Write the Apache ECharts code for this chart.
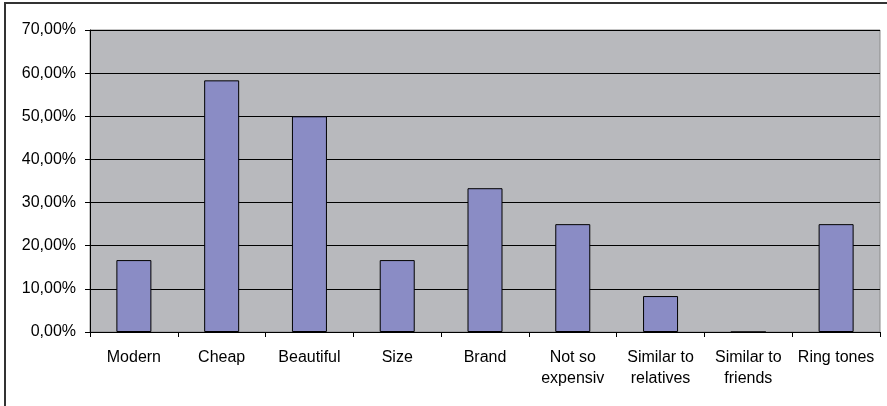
<!DOCTYPE html>
<html>
<head>
<meta charset="utf-8">
<script src="https://cdn.jsdelivr.net/npm/echarts@6/dist/echarts.min.js"></script>
<style>
  html, body { margin: 0; padding: 0; background: #fff; }
  #main { width: 887px; height: 406px; }
</style>
</head>
<body>
<div id="main"></div>
<script>
// reasons for choosing the phone (share of answers, %)
var categories = ['Modern', 'Cheap', 'Beautiful', 'Size', 'Brand', 'Not so\nexpensiv', 'Similar to\nrelatives', 'Similar to\nfriends', 'Ring tones'];
var shares = [16.67, 58.33, 50, 16.67, 33.33, 25, 8.33, 0, 25];
var yTicks = [0, 10, 20, 30, 40, 50, 60, 70];

var myChart = echarts.init(document.getElementById('main'));

option = {
    animation: false,
    backgroundColor: '#fff',
    textStyle: { fontFamily: 'Liberation Sans, Arial, sans-serif' },
    graphic: [{
        type: 'rect',
        shape: { x: 5, y: 3, width: 900, height: 420 },
        style: { fill: 'none', stroke: '#333', lineWidth: 2 },
        silent: true
    }],
    grid: {
        left: 90, right: 7, top: 30, bottom: 74,
        show: true,
        backgroundColor: '#B8B9BD',
        borderColor: '#8a8a8a',
        borderWidth: 1
    },
    xAxis: {
        type: 'category',
        data: categories,
        axisLine: { lineStyle: { color: '#000', width: 1 } },
        axisTick: { show: true, length: 5, lineStyle: { color: '#000' } },
        axisLabel: {
            color: '#000', fontSize: 16, lineHeight: 21, margin: 15, interval: 0,
            fontFamily: 'Liberation Sans, Arial, sans-serif'
        }
    },
    yAxis: {
        type: 'value',
        min: yTicks[0],
        max: yTicks[yTicks.length - 1],
        interval: 10,
        axisLine: { show: true, lineStyle: { color: '#000', width: 1 } },
        axisTick: { show: true, length: 5, lineStyle: { color: '#000' } },
        splitLine: { show: true, lineStyle: { color: '#000', width: 1 } },
        axisLabel: {
            color: '#000', fontSize: 16, margin: 14,
            fontFamily: 'Liberation Sans, Arial, sans-serif',
            formatter: function (v) { return v.toFixed(2).replace('.', ',') + '%'; }
        }
    },
    series: [{
        type: 'bar',
        data: shares,
        barWidth: 35,
        itemStyle: { color: '#8A8CC5', borderColor: '#000', borderWidth: 1 }
    }]
};
myChart.setOption(option);
</script>
</body>
</html>
